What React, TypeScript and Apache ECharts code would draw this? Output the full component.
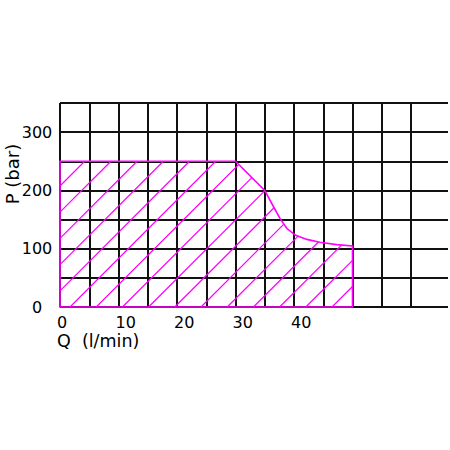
import React, { useEffect, useRef } from 'react';
import * as echarts from 'echarts';

// Axis ticks / labels
const qLabels = [0, 10, 20, 30, 40];
const pLabels = [0, 100, 200, 300];
const xName = 'Q  (l/min)';
const yName = 'P (bar)';

// Boundary of the operating envelope (Q in l/min, P in bar)
const qOutline = [0, 0, 30, 35, 36.5, 37.6, 38.75, 40.2, 42.2, 44.4, 47.3, 50, 50];
const pOutline = [0, 250, 250, 200, 172, 152, 135, 123.5, 116, 111, 107, 104.7, 0];

const FONT = 'DejaVu Sans';
const GRID_COLOR = '#111';
const MAGENTA = '#ff00ff';

export default function App() {
  const ref = useRef<HTMLDivElement>(null);

  useEffect(() => {
    if (!ref.current) return;
    const chart = echarts.init(ref.current, undefined, { renderer: 'svg' });

    const renderItem = (params: any, api: any) => {
      const pts: number[][] = qOutline.map((q, i) => api.coord([q, pOutline[i]]));
      const o = api.coord([0, 0]);
      const n = pts.length;
      const step = 26.2;
      const off = 10;
      let minC = Infinity;
      let maxC = -Infinity;
      pts.forEach((p) => {
        const c = p[0] + p[1];
        minC = Math.min(minC, c);
        maxC = Math.max(maxC, c);
      });
      const base = o[0] + o[1] + off;
      const kStart = Math.ceil((minC - base) / step);
      const kEnd = Math.floor((maxC - base) / step);
      let d = '';
      for (let k = kStart; k <= kEnd; k++) {
        const C = base + k * step + 0.001;
        const xs: number[][] = [];
        for (let i = 0; i < n; i++) {
          const a = pts[i];
          const b = pts[(i + 1) % n];
          const fa = a[0] + a[1] - C;
          const fb = b[0] + b[1] - C;
          if ((fa < 0 && fb >= 0) || (fa >= 0 && fb < 0)) {
            const t = fa / (fa - fb);
            xs.push([a[0] + t * (b[0] - a[0]), a[1] + t * (b[1] - a[1])]);
          }
        }
        xs.sort((u, v) => u[0] - v[0]);
        for (let j = 0; j + 1 < xs.length; j += 2) {
          d += `M${xs[j][0].toFixed(2)} ${xs[j][1].toFixed(2)}L${xs[j + 1][0].toFixed(2)} ${xs[j + 1][1].toFixed(2)}`;
        }
      }
      let outline = '';
      pts.forEach((p, i) => {
        outline += `${i === 0 ? 'M' : 'L'}${p[0].toFixed(2)} ${p[1].toFixed(2)}`;
      });
      outline += 'Z';
      return {
        type: 'group',
        children: [
          {
            type: 'path',
            shape: { pathData: d },
            style: { stroke: MAGENTA, fill: 'none', lineWidth: 1.2 },
          },
          {
            type: 'path',
            shape: { pathData: outline },
            style: { stroke: MAGENTA, fill: 'none', lineWidth: 1.6 },
          },
        ],
      };
    };

    const labelStyle = { fontFamily: FONT, fontSize: 16, color: '#000' };

    chart.setOption({
      animation: false,
      backgroundColor: '#fff',
      grid: [
        { left: 60, top: 103, right: 2, bottom: 143 },
        { left: 60, top: 103, right: 39, bottom: 143 },
      ],
      xAxis: [
        {
          gridIndex: 0, type: 'value', min: 0, max: 66.3, show: false,
        },
        {
          gridIndex: 1, type: 'value', min: 0, max: 60, interval: 5,
          axisLine: { show: false }, axisTick: { show: false },
          splitLine: { show: true, showMinLine: true, showMaxLine: true, lineStyle: { color: GRID_COLOR, width: 2 } },
          axisLabel: {
            ...labelStyle, align: 'left', margin: 7, padding: [0, 0, 0, -3],
            lineHeight: 16,
            showMinLabel: true, showMaxLabel: true,
            formatter: (v: number) => (qLabels.indexOf(v) >= 0 ? String(v) : ''),
          },
        },
      ],
      yAxis: [
        {
          gridIndex: 0, type: 'value', min: 0, max: 350, interval: 50,
          axisLine: { show: false }, axisTick: { show: false },
          splitLine: { show: true, showMinLine: true, showMaxLine: true, lineStyle: { color: GRID_COLOR, width: 2 } },
          axisLabel: {
            ...labelStyle, align: 'center', margin: 23, padding: [0, 0, 4, 0],
            showMinLabel: true, showMaxLabel: true,
            formatter: (v: number) => (pLabels.indexOf(v) >= 0 ? String(v) : ''),
          },
        },
        {
          gridIndex: 1, type: 'value', min: 0, max: 350, interval: 50, show: false,
        },
      ],
      graphic: [
        {
          type: 'text', x: 57, y: 341,
          style: { text: xName, fontFamily: FONT, fontSize: 17.5, lineHeight: 18, fill: '#000', textAlign: 'left', textVerticalAlign: 'middle' },
        },
        {
          type: 'text', x: 12, y: 174, rotation: Math.PI / 2,
          style: { text: yName, fontFamily: FONT, fontSize: 18, fill: '#000', textAlign: 'center', textVerticalAlign: 'middle' },
        },
      ],
      series: [
        {
          type: 'custom',
          xAxisIndex: 1,
          yAxisIndex: 1,
          renderItem,
          data: [[0, 0]],
          clip: false,
          silent: true,
          z: 10,
        },
      ],
    });

    return () => chart.dispose();
  }, []);

  return (
    <div
      ref={ref}
      style={{ position: 'absolute', left: 0, top: 0, width: 450, height: 450 }}
    />
  );
}
